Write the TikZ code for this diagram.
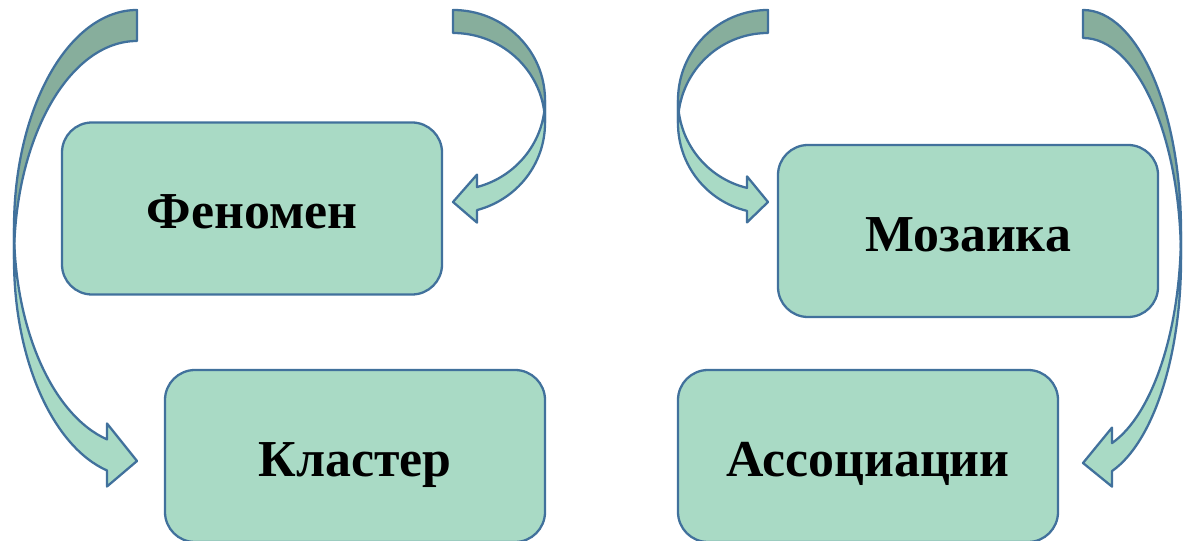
\documentclass[tikz,border=0pt]{standalone}
\usepackage{fontspec}
\setmainfont{Liberation Serif}
\usepackage{tikz}
\definecolor{boxgreen}{RGB}{169,218,197}
\definecolor{backgreen}{RGB}{135,174,156}
\definecolor{boxline}{RGB}{65,113,156}
\tikzset{
         term/.style={rectangle,draw=boxline,line width=1.3pt,fill=boxgreen,
          rounded corners=0.6cm,minimum width=7.6cm,minimum height=3.44cm,
          font=\fontsize{29.5}{35}\selectfont\bfseries,text height=28pt,text depth=5pt},
         backpart/.style={draw=boxline,line width=1.3pt,fill=backgreen,line join=round},
         frontpart/.style={draw=boxline,line width=1.3pt,fill=boxgreen,line join=round}
        }
\begin{document}
\begin{tikzpicture}
\useasboundingbox(0,0)rectangle(23.68,10.8);
%boxes
\node[term](phen)at(5.04,6.63){Феномен};
\node[term](mosaic)at(19.36,6.18){Мозаика};
\node[term](cluster)at(7.1,1.68){Кластер};
\node[term](assoc)at(17.36,1.68){Ассоциации};
%left arrow down to the cluster box
\draw[backpart](2.74,10.6)arc(90:180:2.46 and 4.36)--(0.28,5.62)arc(180:90:2.46 and 4.36)--cycle;
\draw[frontpart](0.28,6.24)arc(180:255.88:2.46 and 4.36)--(2.14,2.33)--(2.74,1.58)--(2.14,1.07)--(2.14,1.39)arc(255.88:180:2.46 and 4.36)--cycle;
%arrow back to the phenomenon box
\draw[backpart](9.06,10.6)arc(90:0:1.84 and 1.802)--(10.9,8.338)arc(0:90:1.84 and 1.802)--cycle;
\draw[frontpart](10.9,8.798)arc(0:-74.88:1.84 and 1.802)--(9.54,7.308)--(9.06,6.76)--(9.54,6.348)--(9.54,6.598)arc(-74.88:0:1.84 and 1.802)--cycle;
%arrow to the mosaic box
\draw[backpart](15.36,10.6)arc(90:180:1.8 and 1.804)--(13.56,8.336)arc(180:90:1.8 and 1.804)--cycle;
\draw[frontpart](13.56,8.796)arc(180:256.51:1.8 and 1.804)--(14.94,7.272)--(15.36,6.76)--(14.94,6.352)--(14.94,6.582)arc(256.51:180:1.8 and 1.804)--cycle;
%right arrow down to the associations box
\draw[backpart](21.66,10.6)arc(90:0:1.96 and 4.43)--(23.62,5.61)arc(0:90:1.96 and 4.43)--cycle;
\draw[frontpart](23.62,6.17)arc(0:-72.79:1.96 and 4.43)--(22.24,2.248)--(21.66,1.54)--(22.24,1.068)--(22.24,1.378)arc(-72.79:0:1.96 and 4.43)--cycle;
\end{tikzpicture}
\end{document}
